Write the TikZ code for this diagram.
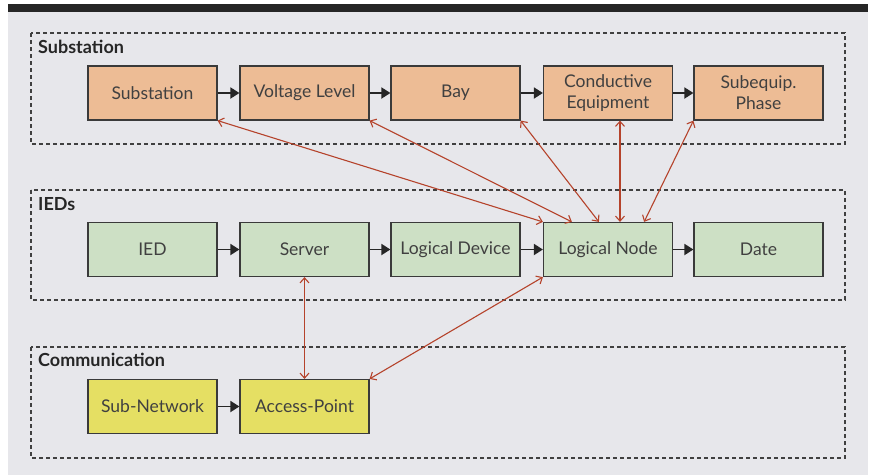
\documentclass[tikz,border=0pt]{standalone}
\usepackage{fontspec}
\setmainfont{Lato}
\usepackage{xcolor}
\usepackage{tikz}
\usetikzlibrary{arrows.meta,positioning}

\definecolor{paper}{HTML}{E7E7EB}
\definecolor{boxline}{HTML}{3A3A3A}
\definecolor{subfill}{HTML}{EDBC95}
\definecolor{iedfill}{HTML}{CDE0C5}
\definecolor{comfill}{HTML}{E5DF63}
\definecolor{linkred}{HTML}{B5432B}

\tikzset{
  unit/.style={draw=boxline, line width=1.2pt, minimum width=129pt, minimum height=54pt,
    inner sep=2pt, align=center, font=\fontsize{17.5}{21}\selectfont, text=black!75},
  group/.style={draw=black!75, line width=1.1pt, dash pattern=on 4pt off 3pt},
  grouplabel/.style={anchor=north west, inner sep=0pt, font=\fontsize{18}{20}\selectfont\bfseries, text=black!85},
  flow/.style={-{Triangle[length=9pt,width=11pt]}, line width=1.8pt, black!85},
  link/.style={{Straight Barb[length=5pt,width=9pt]}-{Straight Barb[length=5pt,width=9pt]}, line width=1.1pt, linkred},
}

\begin{document}
\begin{tikzpicture}[x=1pt, y=-1pt]
        \useasboundingbox (0,0) rectangle (873,475);
        \fill[paper] (8,12) rectangle (868,475);
        \fill[black!85] (8,4) rectangle (868,12);
        % groups
        \draw[group] (31,33) rectangle (845,144);
        \draw[group] (31,190) rectangle (845,300);
        \draw[group] (31,347) rectangle (845,458);
        \node[grouplabel] (lsub) at (38,40) {Substation};
        \node[grouplabel] (lied) at (38,197) {IEDs};
        \node[grouplabel] (lcom) at (38,353) {Communication};
        % substation row
        \node[unit, fill=subfill] (sub) at (152.5,93) {Substation};
        \node[unit, fill=subfill] (vl) at (304.5,93) {Voltage Level};
        \node[unit, fill=subfill] (bay) at (455.5,93) {Bay};
        \node[unit, fill=subfill] (ce) at (608,93) {Conductive\\Equipment};
        \node[unit, fill=subfill] (sp) at (758.5,93) {Subequip.\\Phase};
        % ied row
        \node[unit, fill=iedfill] (ied) at (152.5,249.5) {IED};
        \node[unit, fill=iedfill] (srv) at (304.5,249.5) {Server};
        \node[unit, fill=iedfill] (ld) at (455.5,249.5) {Logical Device};
        \node[unit, fill=iedfill] (ln) at (608,249.5) {Logical Node};
        \node[unit, fill=iedfill] (dat) at (758.5,249.5) {Date};
        % communication row
        \node[unit, fill=comfill] (sn) at (152.5,406.5) {Sub-Network};
        \node[unit, fill=comfill] (ap) at (304.5,406.5) {Access-Point};
        \foreach \a/\b in {sub/vl, vl/bay, bay/ce, ce/sp, ied/srv, srv/ld, ld/ln, ln/dat, sn/ap} {
          \draw[flow] (\a) -- (\b);}
        % links
        \coordinate (ln1) at ([xshift=29pt]ln.north west);
        \coordinate (ln2) at ([xshift=56pt]ln.north west);
        \coordinate (ln3) at ([xshift=12pt]ln.north);
        \coordinate (ln4) at ([xshift=-29pt]ln.north east);
        \coordinate (ce1) at ([xshift=12pt]ce.south);
        \draw[link] (sub.south east) -- (ln.north west);
        \draw[link] (vl.south east) -- (ln1);
        \draw[link] (bay.south east) -- (ln2);
        \draw[link] (ce1) -- (ln3);
        \draw[link] (sp.south west) -- (ln4);
        \draw[link] (srv) -- (ap);
        \draw[link] (ap.north east) -- (ln.south west);
      \end{tikzpicture}
\end{document}
